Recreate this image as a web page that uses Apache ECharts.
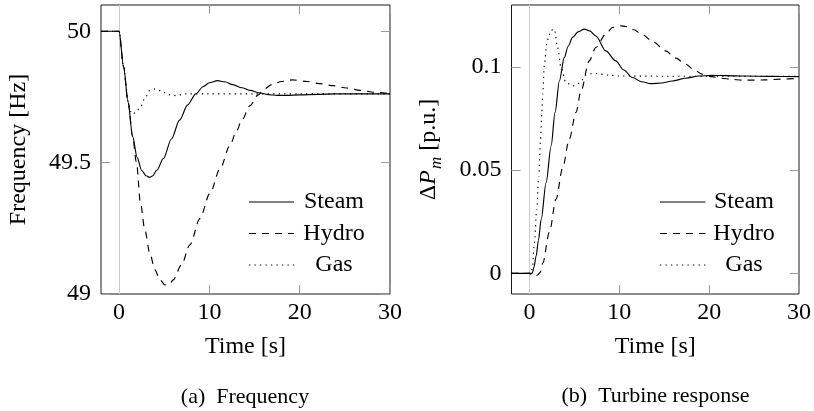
<!DOCTYPE html>
<html>
<head>
<meta charset="utf-8">
<script src="https://cdn.jsdelivr.net/npm/echarts@6/dist/echarts.min.js"></script>
<style>
  html, body { margin: 0; padding: 0; background: #fff; }
  #chart { width: 814px; height: 411px; }
</style>
</head>
<body>
<div id="chart"></div>
<script>
// ---- Frequency after a load step [Hz] ----
const steamFreqT = [-2, 0, 0.5, 1.0, 1.5, 2.0, 2.5, 3.0, 3.35, 3.7, 4.2, 4.9, 5.8, 6.7, 7.6, 8.5, 9.3, 10.0, 10.9, 11.7, 12.6, 13.6, 14.5, 15.6, 16.5, 17.5, 18.5, 20, 22, 24, 27, 30];
const steamFreqV = [50, 50, 49.865, 49.73, 49.60, 49.52, 49.47, 49.45, 49.444, 49.449, 49.472, 49.515, 49.59, 49.662, 49.72, 49.762, 49.789, 49.804, 49.812, 49.808, 49.797, 49.785, 49.775, 49.765, 49.759, 49.756, 49.756, 49.758, 49.760, 49.762, 49.762, 49.762];

const hydroFreqT = [-2, 0, 0.5, 1.0, 1.5, 1.93, 2.37, 2.85, 3.4, 3.96, 4.5, 5.07, 5.6, 6.0, 6.9, 7.84, 8.95, 10.06, 11.2, 12.27, 13.0, 13.6, 14.5, 15.4, 16.1, 16.9, 18.0, 19.2, 20.8, 22.2, 23.7, 25.2, 26.7, 28.3, 30];
const hydroFreqV = [50, 50, 49.865, 49.73, 49.60, 49.499, 49.347, 49.245, 49.156, 49.093, 49.055, 49.035, 49.038, 49.054, 49.11, 49.187, 49.287, 49.383, 49.478, 49.565, 49.62, 49.662, 49.717, 49.758, 49.781, 49.797, 49.809, 49.815, 49.809, 49.801, 49.793, 49.784, 49.775, 49.768, 49.763];

const gasFreqT = [-2, 0, 0.5, 1.0, 1.25, 1.45, 1.8, 2.37, 2.9, 3.4, 4.07, 4.7, 5.43, 6.06, 6.8, 7.5, 10, 15, 20, 25, 30];
const gasFreqV = [50, 50, 49.865, 49.735, 49.695, 49.684, 49.69, 49.712, 49.748, 49.775, 49.781, 49.772, 49.759, 49.755, 49.758, 49.762, 49.762, 49.762, 49.762, 49.762, 49.762];

// ---- Mechanical power change [p.u.] ----
const steamPowT = [-2, 0, 0.3, 0.5, 0.74, 1.0, 1.3, 1.85, 2.41, 2.85, 3.33, 3.88, 4.3, 4.8, 5.4, 6.1, 6.7, 7.39, 8.5, 9.6, 10.5, 11.45, 12.5, 13.5, 14.7, 15.9, 17.4, 18.85, 20.3, 21.8, 24, 27, 30];
const steamPowV = [0, 0, 0, 0.003, 0.0084, 0.016, 0.026, 0.0439, 0.0617, 0.078, 0.0932, 0.1046, 0.110, 0.1143, 0.117, 0.1183, 0.1175, 0.115, 0.1078, 0.1029, 0.0985, 0.0949, 0.0928, 0.0919, 0.0922, 0.0932, 0.0945, 0.0956, 0.0959, 0.0958, 0.0956, 0.0954, 0.0953];

const hydroPowT = [-2, 0, 0.3, 0.6, 0.9, 1.19, 1.48, 2.22, 2.96, 3.69, 4.43, 5.18, 5.73, 6.65, 7.39, 8.5, 9.24, 10.23, 10.7, 11.6, 12.56, 13.8, 15.15, 16.3, 17.37, 18.3, 19.2, 20.3, 21.4, 22.5, 23.6, 25, 26.2, 28, 30];
const hydroPowV = [0, 0, -0.0008, -0.0015, -0.0008, 0.0005, 0.005, 0.02, 0.036, 0.051, 0.065, 0.078, 0.0883, 0.1029, 0.1094, 0.1159, 0.1191, 0.1199, 0.1196, 0.118, 0.1157, 0.112, 0.1078, 0.1043, 0.1013, 0.0987, 0.0965, 0.0953, 0.0945, 0.094, 0.0936, 0.0936, 0.0937, 0.0941, 0.0945];

const gasPowT = [-2, 0, 0.3, 0.55, 0.81, 1.03, 1.22, 1.37, 1.48, 1.66, 1.92, 2.15, 2.4, 2.77, 3.14, 3.51, 4.07, 4.8, 5.3, 5.73, 6.29, 6.9, 7.39, 8.87, 10, 15, 20, 25, 30];
const gasPowV = [0, 0, 0.002, 0.0148, 0.031, 0.047, 0.0633, 0.0779, 0.0868, 0.1013, 0.111, 0.115, 0.1178, 0.1183, 0.1094, 0.0997, 0.0924, 0.0908, 0.0915, 0.0932, 0.0961, 0.0967, 0.0968, 0.096, 0.0956, 0.0955, 0.0955, 0.0955, 0.0955];

// ---- Axis ticks ----
const timeTicks = [0, 10, 20, 30];
const freqTicks = [49, 49.5, 50];
const powTicks = [0, 0.05, 0.1];
const legendNames = ['Steam', 'Hydro', 'Gas'];

const FONT = '"Liberation Serif", "Times New Roman", serif';
const FS = 24;
const DASH = { solid: 'solid', dashed: [7, 6], dotted: [1.3, 4.2] };
const STYLES = [DASH.solid, DASH.dashed, DASH.dotted];

const pairs = (t, v) => t.map((x, i) => [x, v[i]]);

const chart = echarts.init(document.getElementById('chart'), null, { renderer: 'canvas' });

const gridBox = [
  { left: 101, top: 5, width: 289, height: 289 },
  { left: 511.5, top: 5, width: 289, height: 289 }
];

const tickStyle = { inside: true, length: 9, lineStyle: { color: '#9a9a9a', width: 1 } };

function xAxes(gi) {
  const base = {
    type: 'value', gridIndex: gi, min: -2, max: 30,
    axisLine: { show: false, onZero: false }, splitLine: { show: false }
  };
  return [
    Object.assign({}, base, {
      position: 'bottom',
      axisTick: Object.assign({ customValues: timeTicks }, tickStyle),
      axisLabel: { customValues: timeTicks, color: '#000', fontFamily: FONT, fontSize: FS, margin: 7 },
      name: 'Time [s]', nameLocation: 'middle', nameGap: 41,
      nameTextStyle: { color: '#000', fontFamily: FONT, fontSize: FS }
    }),
    Object.assign({}, base, {
      position: 'top',
      axisTick: Object.assign({ customValues: timeTicks }, tickStyle),
      axisLabel: { show: false }
    })
  ];
}

function yAxes(gi, min, max, ticks, name, rich) {
  const base = {
    type: 'value', gridIndex: gi, min: min, max: max,
    axisLine: { show: false, onZero: false }, splitLine: { show: false }
  };
  return [
    Object.assign({}, base, {
      position: 'left',
      axisTick: Object.assign({ customValues: ticks }, tickStyle),
      axisLabel: { customValues: ticks, color: '#000', fontFamily: FONT, fontSize: FS, margin: 10 },
      name: name, nameLocation: 'middle', nameGap: 70,
      nameTextStyle: Object.assign({ color: '#000', fontFamily: FONT, fontSize: FS }, rich ? { rich: rich } : {})
    }),
    Object.assign({}, base, {
      position: 'right',
      axisTick: Object.assign({ customValues: ticks }, tickStyle),
      axisLabel: { show: false }
    })
  ];
}

const powRich = {
  r: { fontFamily: FONT, fontSize: FS, color: '#000', lineHeight: 25, verticalAlign: 'top' },
  i: { fontFamily: FONT, fontSize: FS, fontStyle: 'italic', color: '#000', lineHeight: 25, verticalAlign: 'top' },
  s: { fontFamily: FONT, fontSize: 17, fontStyle: 'italic', color: '#000', lineHeight: 17, verticalAlign: 'top', padding: [12, 0, 0, 1] }
};

function lineSeries(name, data, xi, yi, dash, withZeroLine) {
  const s = {
    name: name, type: 'line', xAxisIndex: xi, yAxisIndex: yi,
    data: data, showSymbol: false, symbol: 'none',
    smooth: 0.3, smoothMonotone: 'x',
    lineStyle: { color: '#000', width: 1.15, type: dash },
    z: 3
  };
  if (withZeroLine) {
    s.markLine = {
      silent: true, symbol: ['none', 'none'], label: { show: false },
      lineStyle: { color: '#cccccc', width: 1, type: 'solid' },
      data: [{ xAxis: 0 }], z: 1
    };
  }
  return s;
}

// legend drawn inside each panel, lower right
function legendGraphics(lineX1, lineX2, textX, ys) {
  const out = [];
  legendNames.forEach((n, k) => {
    out.push({
      type: 'line', silent: true,
      shape: { x1: lineX1, y1: ys[k], x2: lineX2, y2: ys[k] },
      style: { stroke: '#000', lineWidth: 1.15, lineDash: k === 0 ? null : STYLES[k] }
    });
    out.push({
      type: 'text', silent: true,
      style: { text: n, x: textX, y: ys[k], fill: '#000', font: FS + 'px ' + FONT, textAlign: 'center', textVerticalAlign: 'middle' }
    });
  });
  return out;
}

const legendYs = [202, 233.5, 265];

const option = {
  animation: false,
  backgroundColor: '#fff',
  grid: gridBox.map(g => Object.assign({ show: true, borderColor: '#1a1a1a', borderWidth: 1, backgroundColor: 'transparent' }, g)),
  xAxis: [].concat(xAxes(0), xAxes(1)),
  yAxis: [].concat(
    yAxes(0, 49, 50.1, freqTicks, 'Frequency [Hz]'),
    yAxes(1, -0.01, 0.13, powTicks, '{r|Δ}{i|P}{s|m}{r| [p.u.]}', powRich)
  ),
  series: [
    lineSeries('Steam', pairs(steamFreqT, steamFreqV), 0, 0, DASH.solid, true),
    lineSeries('Hydro', pairs(hydroFreqT, hydroFreqV), 0, 0, DASH.dashed, false),
    lineSeries('Gas', pairs(gasFreqT, gasFreqV), 0, 0, DASH.dotted, false),
    lineSeries('Steam', pairs(steamPowT, steamPowV), 2, 2, DASH.solid, true),
    lineSeries('Hydro', pairs(hydroPowT, hydroPowV), 2, 2, DASH.dashed, false),
    lineSeries('Gas', pairs(gasPowT, gasPowV), 2, 2, DASH.dotted, false)
  ],
  graphic: [].concat(
    legendGraphics(249, 294, 334, legendYs),
    legendGraphics(660, 705.5, 744, legendYs),
    [
      { type: 'text', silent: true, style: { text: '(a)\u2002Frequency', x: 245, y: 397, fill: '#000', font: '22px ' + FONT, textAlign: 'center', textVerticalAlign: 'middle' } },
      { type: 'text', silent: true, style: { text: '(b)\u2002Turbine response', x: 655.5, y: 396, fill: '#000', font: '22px ' + FONT, textAlign: 'center', textVerticalAlign: 'middle' } }
    ]
  )
};

chart.setOption(option);
</script>
</body>
</html>
